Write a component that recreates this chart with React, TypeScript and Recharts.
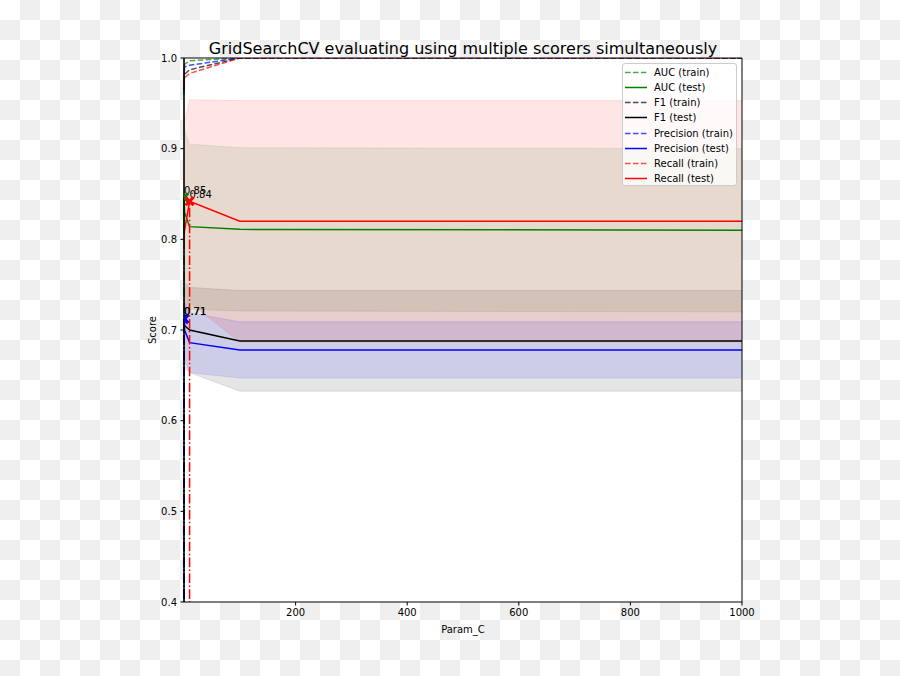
import React from 'react';
import {
  ComposedChart,
  Line,
  Area,
  XAxis,
  YAxis,
  CartesianGrid,
  ReferenceLine,
  ReferenceDot,
  Legend,
  Label,
} from 'recharts';

// ---- data ----
const paramC = [0.01, 0.1, 1, 10, 100, 1000];

const aucTrain = [0.965, 0.985, 0.993, 0.997, 1.0, 1.0];
const aucTest = [0.81, 0.846, 0.83, 0.814, 0.811, 0.81];
const aucTestStd = [0.095, 0.092, 0.09, 0.091, 0.09, 0.09];

const f1Train = [0.965, 0.975, 0.982, 0.987, 1.0, 1.0];
const f1Test = [0.7, 0.7125, 0.705, 0.7, 0.688, 0.688];
const f1TestStd = [0.05, 0.048, 0.047, 0.047, 0.0555, 0.0555];

const precisionTrain = [0.96, 0.975, 0.99, 0.992, 1.0, 1.0];
const precisionTest = [0.7, 0.712, 0.7, 0.686, 0.678, 0.678];
const precisionTestStd = [0.035, 0.034, 0.033, 0.033, 0.031, 0.031];

const recallTrain = [0.97, 0.975, 0.978, 0.983, 1.0, 1.0];
const recallTest = [0.8, 0.805, 0.81, 0.842, 0.82, 0.82];
const recallTestStd = [0.12, 0.12, 0.12, 0.112, 0.133, 0.133];

const scorerNames = ['AUC', 'F1', 'Precision', 'Recall'];
const scorerColors = ['#008000', '#000000', '#0000ff', '#ff0000'];

const xTicks = [200, 400, 600, 800, 1000];
const yTicks = [0.4, 0.5, 0.6, 0.7, 0.8, 0.9, 1.0];

const titleText = 'GridSearchCV evaluating using multiple scorers simultaneously';
const xLabelText = 'Param_C';
const yLabelText = 'Score';

// ---- layout ----
const CHART_W = 900;
const CHART_H = 676;
const MARGIN = { top: 58, right: 158, bottom: 0, left: 0 };
const Y_AXIS_W = 184;
const X_AXIS_H = 74;
const PLOT_LEFT = MARGIN.left + Y_AXIS_W;
const PLOT_TOP = MARGIN.top;
const PLOT_W = CHART_W - MARGIN.right - PLOT_LEFT;
const PLOT_H = CHART_H - MARGIN.bottom - X_AXIS_H - PLOT_TOP;

// ---- derived structures ----
const scorers = [
  { key: 'auc', train: aucTrain, test: aucTest, std: aucTestStd },
  { key: 'f1', train: f1Train, test: f1Test, std: f1TestStd },
  { key: 'precision', train: precisionTrain, test: precisionTest, std: precisionTestStd },
  { key: 'recall', train: recallTrain, test: recallTest, std: recallTestStd },
].map((s, i) => ({ ...s, name: scorerNames[i], color: scorerColors[i] }));

const table = paramC.map((c, i) => {
  const row: any = { c };
  scorers.forEach((s) => {
    row[s.key + 'Train'] = s.train[i];
    row[s.key + 'Test'] = s.test[i];
    row[s.key + 'Band'] = [s.test[i] - s.std[i], s.test[i] + s.std[i]];
  });
  return row;
});

const bests = scorers.map((s) => {
  const max = Math.max(...s.test);
  const idx = s.test.indexOf(max);
  return { ...s, bestC: paramC[idx], best: max };
});

const FONT = 'DejaVu Sans, sans-serif';
const DASH = '5.55 2.4';
const DASH_DOT = '9.6 2.4 1.5 2.4';

const makeXMarker = (color: string, key: string) => (props: any) => {
  const { cx, cy, index } = props;
  if (cx == null || cy == null || isNaN(cx) || isNaN(cy)) return <g key={'m' + index} />;
  const r = 4;
  const clipId = `mk-${key}-${index}`;
  return (
    <g key={'m' + index}>
      <defs>
        <clipPath id={clipId}>
          <rect x={PLOT_LEFT} y={PLOT_TOP} width={PLOT_W} height={PLOT_H} />
        </clipPath>
      </defs>
      <path
        clipPath={`url(#${clipId})`}
        d={`M${cx - r},${cy - r}L${cx + r},${cy + r}M${cx - r},${cy + r}L${cx + r},${cy - r}`}
        stroke={color}
        strokeWidth={3}
        fill="none"
      />
    </g>
  );
};

const renderLegend = () => {
  const items: { label: string; color: string; dashed: boolean }[] = [];
  scorers.forEach((s) => {
    items.push({ label: `${s.name} (train)`, color: s.color, dashed: true });
    items.push({ label: `${s.name} (test)`, color: s.color, dashed: false });
  });
  return (
    <div
      style={{
        width: 115,
        height: 123,
        boxSizing: 'border-box',
        background: 'rgba(255,255,255,0.8)',
        border: '1px solid #cccccc',
        borderRadius: 3,
        position: 'relative',
        fontFamily: FONT,
        fontSize: 10,
        color: '#000',
      }}
    >
      {items.map((it, i) => (
        <div
          key={it.label}
          style={{
            position: 'absolute',
            left: 2,
            top: 0.8 + i * 15.2,
            height: 15,
            display: 'flex',
            alignItems: 'center',
            whiteSpace: 'nowrap',
          }}
        >
          <svg width={22} height={15} style={{ display: 'block' }}>
            <line
              x1={0}
              y1={7.5}
              x2={22}
              y2={7.5}
              stroke={it.color}
              strokeOpacity={it.dashed ? 0.7 : 1}
              strokeWidth={1.5}
              strokeDasharray={it.dashed ? DASH : undefined}
            />
          </svg>
          <span style={{ marginLeft: 7, lineHeight: '15px' }}>{it.label}</span>
        </div>
      ))}
    </div>
  );
};

export default function App() {
  return (
    <div
      style={{
        position: 'absolute',
        left: 0,
        top: 0,
        width: CHART_W,
        height: CHART_H,
        backgroundColor: '#ffffff',
        backgroundImage: 'repeating-conic-gradient(#efefef 0% 25%, #ffffff 0% 50%)',
        backgroundSize: '40px 40px',
        fontFamily: FONT,
      }}
    >
      <div
        style={{
          position: 'absolute',
          left: PLOT_LEFT,
          top: 39,
          width: PLOT_W,
          textAlign: 'center',
          fontSize: 16,
          lineHeight: '19px',
          color: '#000',
          whiteSpace: 'nowrap',
          zIndex: 2,
        }}
      >
        {titleText}
      </div>
      <ComposedChart width={CHART_W} height={CHART_H} data={table} margin={MARGIN}>
        <CartesianGrid horizontal={false} vertical={false} fill="#ffffff" fillOpacity={1} stroke="none" />
        <XAxis
          type="number"
          dataKey="c"
          domain={[0, 1000]}
          ticks={xTicks}
          height={X_AXIS_H}
          tickSize={3.5}
          tickMargin={3}
          axisLine={{ stroke: '#000', strokeWidth: 1 }}
          tickLine={{ stroke: '#000', strokeWidth: 1 }}
          tick={{ fill: '#000', fontSize: 10, fontFamily: FONT }}
        >
          <Label
            value={xLabelText}
            position="insideBottom"
            offset={43}
            fill="#000"
            fontSize={10}
            fontFamily={FONT}
          />
        </XAxis>
        <YAxis
          type="number"
          domain={[0.4, 1.0]}
          ticks={yTicks}
          allowDataOverflow
          width={Y_AXIS_W}
          tickSize={3.5}
          tickMargin={3.5}
          tickFormatter={(v: number) => v.toFixed(1)}
          axisLine={{ stroke: '#000', strokeWidth: 1 }}
          tickLine={{ stroke: '#000', strokeWidth: 1 }}
          tick={{ fill: '#000', fontSize: 10, fontFamily: FONT }}
        >
          <Label
            content={(props: any) => {
              const vb = props.viewBox || { x: 0, y: PLOT_TOP, width: Y_AXIS_W, height: PLOT_H };
              const x = vb.x + vb.width - 28;
              const y = vb.y + vb.height / 2;
              return (
                <text
                  x={x}
                  y={y}
                  transform={`rotate(-90, ${x}, ${y})`}
                  textAnchor="middle"
                  fill="#000"
                  fontSize={10}
                  fontFamily={FONT}
                >
                  {yLabelText}
                </text>
              );
            }}
          />
        </YAxis>

        {scorers.map((s) => (
          <Area
            key={s.key + 'Band'}
            type="linear"
            dataKey={s.key + 'Band'}
            stroke={s.color}
            strokeOpacity={0.1}
            strokeWidth={1}
            fill={s.color}
            fillOpacity={0.1}
            dot={false}
            activeDot={false}
            isAnimationActive={false}
            legendType="none"
          />
        ))}

        {scorers.map((s) => (
          <Line
            key={s.key + 'Train'}
            type="linear"
            dataKey={s.key + 'Train'}
            stroke={s.color}
            strokeOpacity={0.7}
            strokeWidth={1.5}
            strokeDasharray={DASH}
            dot={false}
            activeDot={false}
            isAnimationActive={false}
          />
        ))}
        {scorers.map((s) => (
          <Line
            key={s.key + 'Test'}
            type="linear"
            dataKey={s.key + 'Test'}
            stroke={s.color}
            strokeWidth={1.5}
            dot={false}
            activeDot={false}
            isAnimationActive={false}
          />
        ))}

        {bests.map((b) => (
          <Line
            key={b.key + 'Best'}
            data={[
              { c: b.bestC, v: 0 },
              { c: b.bestC, v: b.best },
            ]}
            type="linear"
            dataKey="v"
            stroke={b.color}
            strokeWidth={1.5}
            strokeDasharray={DASH_DOT}
            dot={makeXMarker(b.color, b.key)}
            activeDot={false}
            isAnimationActive={false}
            legendType="none"
          />
        ))}

        {bests.map((b) => (
          <ReferenceDot
            key={b.key + 'Note'}
            x={b.bestC}
            y={b.best + 0.004}
            r={0}
            shape={(p: any) => (
              <text x={p.cx} y={p.cy} fill="#000" fontSize={10} fontFamily={FONT}>
                {b.best.toFixed(2)}
              </text>
            )}
          />
        ))}

        <ReferenceLine x={0} stroke="#000" strokeWidth={1.2} />
        <ReferenceLine y={1.0} stroke="#000" strokeWidth={1} />
        <ReferenceLine x={1000} stroke="#000" strokeWidth={1} />

        <Legend
          layout="horizontal"
          verticalAlign="middle"
          align="center"
          wrapperStyle={{ left: 622, top: 63, width: 115, height: 123 }}
          content={renderLegend}
        />
      </ComposedChart>
    </div>
  );
}
